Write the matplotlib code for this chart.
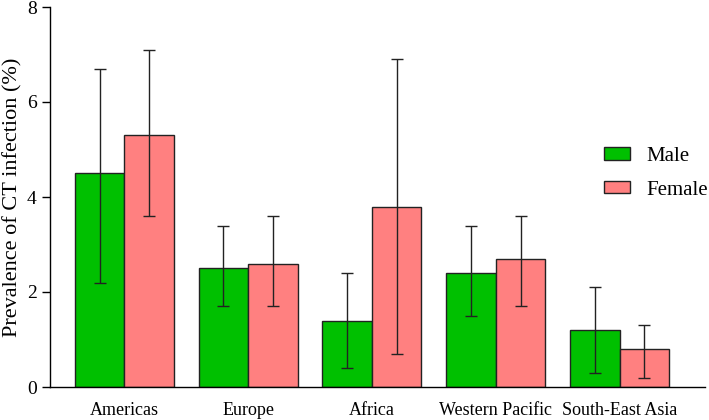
import matplotlib
matplotlib.use("Agg")
import matplotlib.pyplot as plt
import numpy as np

plt.rcParams['font.family'] = ['Liberation Serif', 'DejaVu Serif']

regions = ["Americas", "Europe", "Africa", "Western Pacific", "South-East Asia"]
male = [4.5, 2.5, 1.4, 2.4, 1.2]
male_lo = [2.2, 1.7, 0.4, 1.5, 0.3]
male_hi = [6.7, 3.4, 2.4, 3.4, 2.1]
female = [5.3, 2.6, 3.8, 2.7, 0.8]
female_lo = [3.6, 1.7, 0.7, 1.7, 0.2]
female_hi = [7.1, 3.6, 6.9, 3.6, 1.3]

fig = plt.figure(figsize=(7.09, 4.2), dpi=100)
ax = fig.add_axes([50/709, 33/420, 655/709, 380/420])

x = np.arange(len(regions))
w = 0.4
m = np.array(male); f = np.array(female)
merr = [m - np.array(male_lo), np.array(male_hi) - m]
ferr = [f - np.array(female_lo), np.array(female_hi) - f]

ax.bar(x - w/2, m, w, color='#00C000', edgecolor='#222222', linewidth=1.0, label='Male',
       yerr=merr, error_kw=dict(ecolor='#222222', elinewidth=1.0, capsize=4.5, capthick=1.0))
ax.bar(x + w/2, f, w, color='#FF8080', edgecolor='#222222', linewidth=1.0, label='Female',
       yerr=ferr, error_kw=dict(ecolor='#222222', elinewidth=1.0, capsize=4.5, capthick=1.0))

ax.set_xlim(-0.6, 4.69)
ax.set_ylim(0, 8)
ax.set_yticks([0, 2, 4, 6, 8])
ax.set_xticks(x)
ax.set_xticklabels(regions, fontsize=13)
ax.tick_params(axis='x', length=0, pad=11)
ax.tick_params(axis='y', labelsize=14, length=6, width=1.0, direction='out')
ax.spines['top'].set_visible(False)
ax.spines['right'].set_visible(False)
ax.spines['left'].set_linewidth(1.0)
ax.spines['bottom'].set_linewidth(1.0)
ax.set_ylabel("Prevalence of CT infection (%)", fontsize=16, labelpad=3)

ax.legend(loc='upper left', bbox_to_anchor=(604/709, 1 - 147/420), bbox_transform=fig.transFigure,
          frameon=False, fontsize=15, borderpad=0, borderaxespad=0,
          handlelength=1.25, handleheight=0.53, handletextpad=0.77, labelspacing=0.7)

fig.savefig("out.png", dpi=100)
